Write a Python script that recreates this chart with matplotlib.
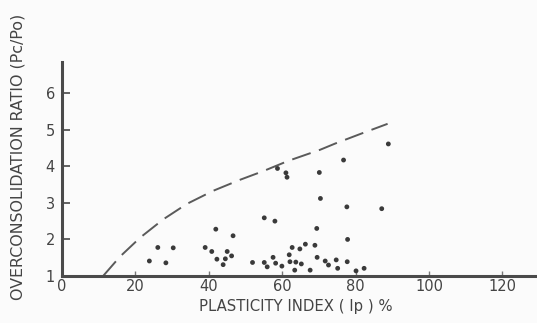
import matplotlib
matplotlib.use("Agg")
import matplotlib.pyplot as plt

# Scatter data: plasticity index (%) and overconsolidation ratio
ip = [23.8, 26.1, 28.3, 30.3, 39.0, 40.8, 41.9, 42.2, 43.9, 44.5,
      45.0, 46.2, 46.6, 51.9, 55.1, 55.1, 55.9, 57.5, 58.0, 58.2,
      58.7, 59.9, 61.0, 61.3, 61.9, 62.1, 62.7, 63.4, 63.7, 64.8,
      65.2, 66.3, 67.6, 68.9, 69.4, 69.5, 70.1, 70.4, 71.7, 72.6,
      74.7, 75.1, 76.7, 77.6, 77.7, 77.8, 80.1, 82.3, 87.1, 88.9]
ocr = [1.41, 1.78, 1.36, 1.77, 1.78, 1.67, 2.28, 1.46, 1.31, 1.47,
       1.67, 1.55, 2.10, 1.37, 2.59, 1.37, 1.25, 1.51, 2.50, 1.35,
       3.94, 1.27, 3.82, 3.70, 1.58, 1.39, 1.78, 1.16, 1.38, 1.74,
       1.33, 1.87, 1.16, 1.84, 2.30, 1.51, 3.83, 3.12, 1.41, 1.30,
       1.44, 1.21, 4.17, 2.89, 1.39, 2.00, 1.14, 1.21, 2.84, 4.61]

# Dashed upper-bound curve
curve_ip = [11.2, 15.8, 21.3, 27.6, 34.0, 41.2, 48.5, 54.9, 61.7, 70.3, 74.4, 81.2, 88.7]
curve_ocr = [1.00, 1.53, 2.05, 2.55, 2.97, 3.33, 3.63, 3.87, 4.15, 4.45, 4.62, 4.88, 5.16]

xticks = [0, 20, 40, 60, 80, 100, 120]
yticks = [1, 2, 3, 4, 5, 6]

W, H = 537, 323
fig = plt.figure(figsize=(W / 100, H / 100), dpi=100)
fig.patch.set_facecolor("#fbfbfb")
ax = fig.add_axes([62 / W, 47 / H, 475 / W, 214 / H])
ax.set_facecolor("#fbfbfb")

ax.plot(curve_ip, curve_ocr, color="#5a5a5a", lw=1.4, dashes=(10, 4.5), solid_capstyle="butt")
ax.scatter(ip, ocr, s=12, color="#3a3a3a", edgecolors="none", zorder=3)

ax.set_xlim(0, 129.4)
ax.set_ylim(1, 6.85)
ax.set_xticks(xticks)
ax.set_yticks(yticks)
ax.set_xticklabels([str(v) for v in xticks])
ax.set_yticklabels([str(v) for v in yticks])

for s in ["top", "right"]:
    ax.spines[s].set_visible(False)
for s in ["left", "bottom"]:
    ax.spines[s].set_color("#4a4a4a")
    ax.spines[s].set_linewidth(2.2)

ax.tick_params(axis="y", direction="in", length=6, width=1.3, color="#555555",
               labelsize=10.5, labelcolor="#444444", pad=5)
ax.tick_params(axis="x", direction="in", length=3.5, width=1.0, color="#777777",
               labelsize=10.5, labelcolor="#444444", pad=2.5)

fig.text(296 / W, 1 - 306 / H, "PLASTICITY INDEX ( Ip ) %", fontsize=10.7,
         color="#444444", ha="center", va="center")
fig.text(18 / W, 1 - 157 / H, "OVERCONSOLIDATION RATIO (Pc/Po)", fontsize=11.4,
         color="#444444", ha="center", va="center", rotation=90)

fig.savefig("out.png", dpi=100, facecolor=fig.get_facecolor())
